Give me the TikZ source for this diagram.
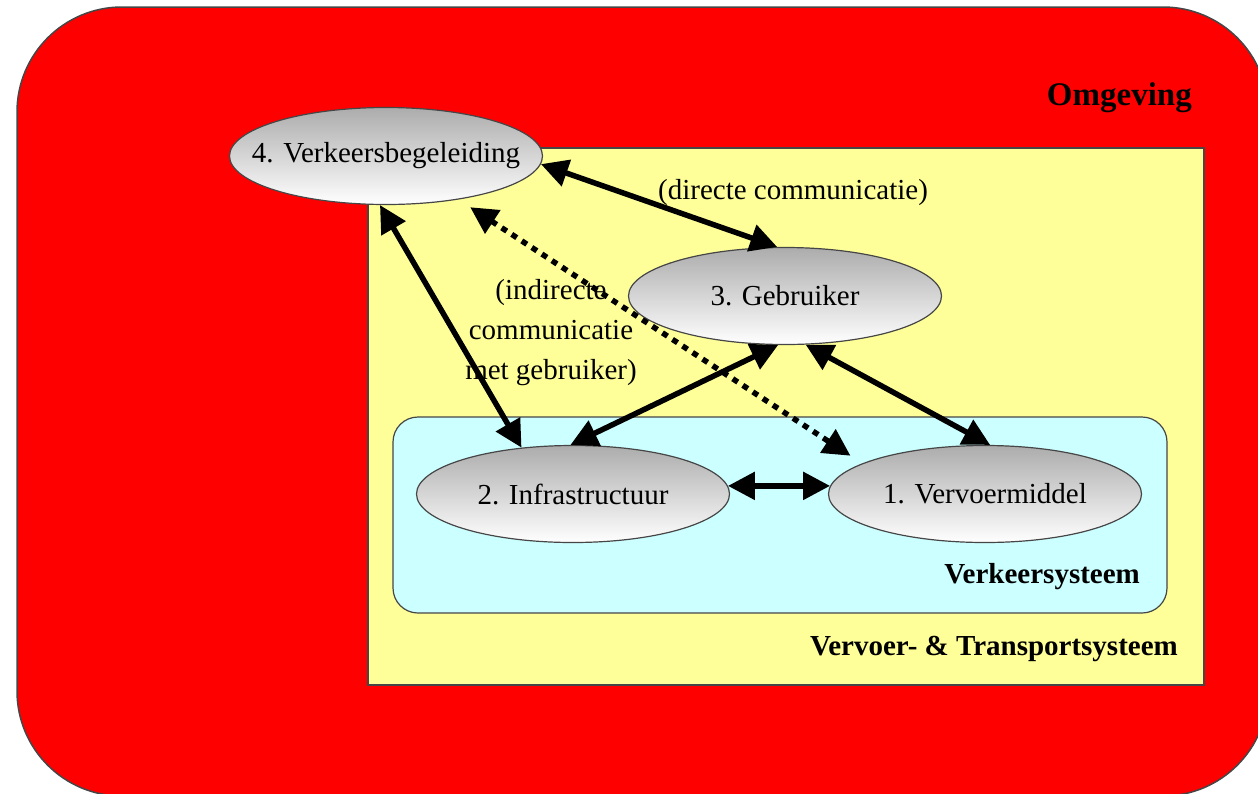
\documentclass[tikz,border=0pt]{standalone}
\usepackage{fontspec}
\setmainfont{Liberation Serif}
\usetikzlibrary{shapes.geometric,arrows.meta,calc}
\definecolor{omred}{RGB}{255,0,0}
\definecolor{vyellow}{RGB}{255,255,153}
\definecolor{vcyan}{RGB}{204,255,255}
\definecolor{edgegray}{RGB}{70,70,70}
\definecolor{elltop}{RGB}{172,172,172}
\begin{document}
\begin{tikzpicture}[x=1pt,y=-1pt,
  elli/.style={ellipse, draw=edgegray, line width=1.2pt, top color=elltop, bottom color=white,
    minimum width=313pt, minimum height=97pt, inner sep=0pt, font=\fontsize{29}{34}\selectfont},
  link/.style={line width=5.5pt, {Triangle[length=27pt,width=27pt]}-{Triangle[length=27pt,width=27pt]}},
  dotlink/.style={link, dash pattern=on 6pt off 6pt},
  lbl/.style={font=\fontsize{29}{40}\selectfont, inner sep=0pt},
  boldlbl/.style={font=\fontsize{29}{34}\selectfont\bfseries, inner sep=0pt}
]
\useasboundingbox (0,0) rectangle (1258,793);
\clip (0,0) rectangle (1258,793);
% containers
\draw[edgegray, line width=1.5pt, fill=omred, rounded corners=105pt] (17,7) rectangle (1268,796);
\draw[edgegray, line width=1.2pt, fill=vyellow] (368,148) rectangle (1204,685);
\draw[edgegray, line width=1.2pt, fill=vcyan, rounded corners=25pt] (393,417) rectangle (1167,613);
% container labels
\node[boldlbl, font=\fontsize{33}{38}\selectfont\bfseries, anchor=base east] (omg) at (1192,105) {Omgeving};
\node[boldlbl, anchor=base east] (vts) at (1140,583) {Verkeersysteem};
\node[boldlbl, anchor=base east] (vtr) at (1178,655) {Vervoer- \& Transportsysteem};
% ellipses
\node[elli] (e4) at (386,156) {\makebox[0pt]{4. Verkeersbegeleiding}};
\node[elli] (e3) at (785,296) {\makebox[0pt]{3. Gebruiker}};
\node[elli] (e2) at (573,494) {\makebox[0pt]{2. Infrastructuur}};
\node[elli] (e1) at (985,494) {\makebox[0pt]{1. Vervoermiddel}};
% edge labels
\node[lbl] (dc) at (793,193) {(directe communicatie)};
\node[lbl, align=center] (ic) at (551,333) {(indirecte\\communicatie\\met gebruiker)};
% connectors
\draw[link] (e4.-3) -- (e3.99);
\draw[link] (e4.263) -- (e2.138);
\draw[dotlink, shorten <=14pt, shorten >=14pt] (e4.-31) -- (e1.166);
\draw[link] (e3.262) -- (e2.93);
\draw[link] (e3.-67) -- (e1.84);
\draw[link] (e2.3) -- (e1.177);
\end{tikzpicture}
\end{document}
